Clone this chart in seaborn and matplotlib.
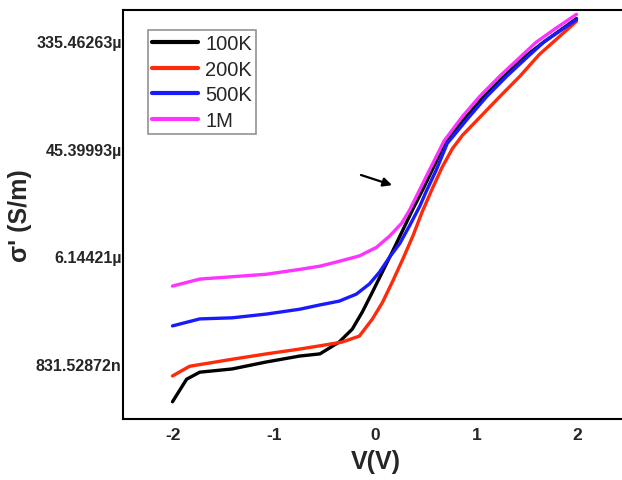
import numpy as np
import pandas as pd
import matplotlib
matplotlib.use("Agg")
import matplotlib.pyplot as plt
from matplotlib.ticker import FixedLocator, FuncFormatter
import seaborn as sns

# Bias voltage (V) and ln of conductivity sigma' (S/m) for each frequency
v_100k = [-2.01, -1.87, -1.74, -1.42, -1.08, -0.75, -0.55, -0.36, -0.23, -0.13, -0.03, 0.07, 0.17, 0.26,
          0.37, 0.47, 0.58, 0.69, 0.90, 1.07, 1.27, 1.47, 1.67, 1.99]
ln_100k = [-14.70, -14.28, -14.15, -14.09, -13.96, -13.85, -13.81, -13.59, -13.35, -13.03, -12.66, -12.28, -11.90, -11.55,
           -11.12, -10.75, -10.32, -9.87, -9.40, -9.03, -8.65, -8.30, -8.01, -7.58]

v_200k = [-2.01, -1.84, -1.42, -1.08, -0.75, -0.55, -0.33, -0.16, -0.03, 0.07, 0.17, 0.27, 0.37, 0.46,
          0.56, 0.66, 0.76, 0.86, 1.03, 1.23, 1.43, 1.62, 1.99]
ln_200k = [-14.22, -14.04, -13.91, -13.81, -13.72, -13.66, -13.59, -13.48, -13.16, -12.85, -12.46, -12.05, -11.62, -11.18,
           -10.75, -10.34, -10.00, -9.75, -9.42, -9.03, -8.65, -8.25, -7.63]

v_500k = [-2.01, -1.74, -1.42, -1.08, -0.75, -0.55, -0.36, -0.19, -0.06, 0.04, 0.14, 0.24, 0.34, 0.44,
          0.50, 0.60, 0.71, 0.93, 1.10, 1.30, 1.50, 1.67, 1.99]
ln_500k = [-13.29, -13.16, -13.14, -13.07, -12.98, -12.90, -12.83, -12.70, -12.51, -12.29, -12.01, -11.76, -11.42, -11.06,
           -10.80, -10.40, -9.90, -9.40, -9.03, -8.65, -8.30, -8.01, -7.60]

v_1m = [-2.01, -1.74, -1.08, -0.75, -0.55, -0.36, -0.16, 0.01, 0.14, 0.26, 0.34, 0.44, 0.53,
        0.68, 0.86, 1.03, 1.23, 1.43, 1.59, 1.77, 1.99]
ln_1m = [-12.55, -12.42, -12.33, -12.24, -12.18, -12.09, -11.99, -11.83, -11.62, -11.38, -11.13, -10.75, -10.41,
         -9.85, -9.40, -9.03, -8.65, -8.30, -8.02, -7.78, -7.50]

labels = ["100K", "200K", "500K", "1M"]
colors = ["#000000", "#ff2a0a", "#1a1aff", "#ff33ff"]

frames = []
for lab, v, lnv in zip(labels, [v_100k, v_200k, v_500k, v_1m],
                       [ln_100k, ln_200k, ln_500k, ln_1m]):
    frames.append(pd.DataFrame({"V": v, "sigma": np.exp(lnv), "freq": lab}))
df = pd.concat(frames, ignore_index=True)

sns.set_style("white")
plt.rcParams["font.family"] = ["Liberation Sans", "DejaVu Sans"]

fig = plt.figure(figsize=(6.22, 4.81), dpi=100)
ax = fig.add_axes([123 / 622, 1 - 420 / 481, 505 / 622, 409 / 481])

sns.lineplot(data=df, x="V", y="sigma", hue="freq", hue_order=labels,
             palette=colors, linewidth=2.4, ax=ax, sort=False)

ax.set_yscale("log", base=np.e)
ax.set_ylim(np.exp(-15.02), np.exp(-7.42))
ax.set_xlim(-2.5, 2.5)


def si_label(val, pos=None):
    for factor, prefix in [(1e6, "\u00b5"), (1e9, "n")]:
        if val * factor >= 1:
            return f"{val * factor:.5f}{prefix}"
    return f"{val:g}"


ax.yaxis.set_major_locator(FixedLocator(np.exp([-14, -12, -10, -8])))
ax.yaxis.set_major_formatter(FuncFormatter(si_label))
ax.yaxis.set_minor_locator(FixedLocator([]))
ax.set_xticks([-2, -1, 0, 1, 2])
ax.set_xticklabels(["-2", "-1", "0", "1", "2"])

ax.tick_params(axis="y", length=0, pad=1)
ax.tick_params(axis="x", length=0, pad=6)
for t in ax.get_yticklabels():
    t.set_fontsize(11.5)
    t.set_fontweight("bold")
for t in ax.get_xticklabels():
    t.set_fontsize(12.5)
    t.set_fontweight("bold")

for sp in ax.spines.values():
    sp.set_linewidth(1.5)
    sp.set_color("black")

ax.set_xlabel("V(V)", fontsize=18, fontweight="bold", labelpad=5)
ax.set_ylabel("\u03c3' (S/m)", fontsize=18, fontweight="bold", labelpad=3)

leg = ax.legend(loc="upper left", bbox_to_anchor=(0.0495, 0.951),
                borderaxespad=0, fontsize=14.5,
                frameon=True, fancybox=False, handlelength=2.3,
                borderpad=0.2, labelspacing=0.33, handletextpad=0.35)
leg.get_frame().set_edgecolor("#777777")
leg.get_frame().set_linewidth(1.2)
for line in leg.get_lines():
    line.set_linewidth(3)

ax.annotate("", xy=(0.19, np.exp(-10.69)), xytext=(-0.17, np.exp(-10.47)),
            arrowprops=dict(arrowstyle="-|>", color="black", lw=1.6,
                            mutation_scale=13))

fig.savefig("out.png", dpi=100)
